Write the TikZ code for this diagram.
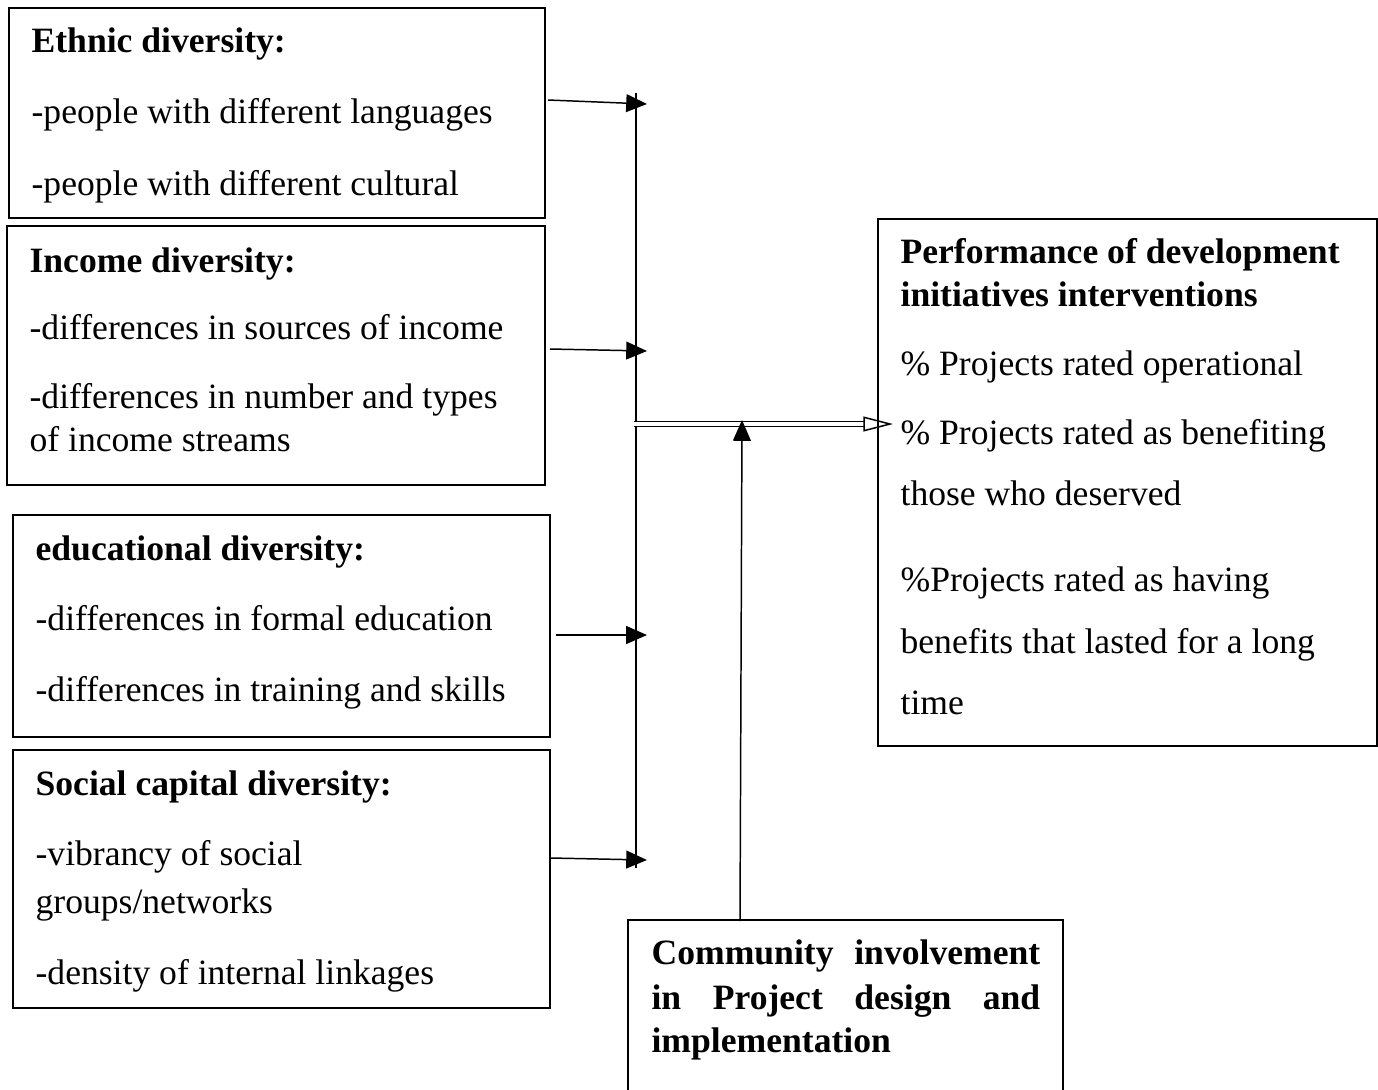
\documentclass[tikz,border=0pt]{standalone}
\usepackage{fontspec}
\setmainfont{Liberation Serif}
\usetikzlibrary{arrows.meta,positioning,fit}
\tikzset{
	varbox/.style={draw,line width=0.6pt,inner sep=0pt},
	txt/.style={anchor=base west,inner sep=0pt,font=\fontsize{12}{14}\selectfont},
	hd/.style={anchor=base west,inner sep=0pt,font=\fontsize{12}{14}\selectfont\bfseries},
	feed/.style={line width=0.5pt,-{Triangle[length=7pt,width=6pt]}},
}
\begin{document}
\begin{tikzpicture}[x=0.337pt,y=-0.337pt]
	\useasboundingbox (0,0) rectangle (1378,1089);
	% left boxes
	\node[varbox,fit={(9,8) (545,218)}] (ethnic) {};
	\node[hd]  (ethnic0) at (31,52)  {Ethnic diversity:};
	\node[txt] (ethnic1) at (31,123) {-people with different languages};
	\node[txt] (ethnic2) at (31,195) {-people with different cultural};
	\node[varbox,fit={(7,226) (545,485)}] (income) {};
	\node[hd]  (income0) at (29,272) {Income diversity:};
	\node[txt] (income1) at (29,339) {-differences in sources of income};
	\node[txt] (income2) at (29,408) {-differences in number and types};
	\node[txt] (income3) at (29,451) {of income streams};
	\node[varbox,fit={(13,515) (550,737)}] (educ) {};
	\node[hd]  (educ0) at (35,560) {educational diversity:};
	\node[txt] (educ1) at (35,630) {-differences in formal education};
	\node[txt] (educ2) at (35,701) {-differences in training and skills};
	\node[varbox,fit={(13,750) (550,1008)}] (social) {};
	\node[hd]  (social0) at (35,795) {Social capital diversity:};
	\node[txt] (social1) at (35,865) {-vibrancy of social};
	\node[txt] (social2) at (35,913) {groups/networks};
	\node[txt] (social3) at (35,984) {-density of internal linkages};
	% right box
	\node[varbox,fit={(878,219) (1377,746)}] (perf) {};
	\node[hd]  (perf0) at (900,263) {Performance of development};
	\node[hd]  (perf1) at (900,306) {initiatives interventions};
	\node[txt] (perf2) at (900,375) {\% Projects rated operational};
	\node[txt] (perf3) at (900,444) {\% Projects rated as benefiting};
	\node[txt] (perf4) at (900,505) {those who deserved};
	\node[txt] (perf5) at (900,591) {\%Projects rated as having};
	\node[txt] (perf6) at (900,653) {benefits that lasted for a long};
	\node[txt] (perf7) at (900,714) {time};
	% moderating box, open at the bottom
	\draw[line width=0.6pt] (628,1095) |- (1063,920) -- (1063,1095);
	\node[hd] (comm0) at (651,964)  {\makebox[131pt][s]{Community involvement}};
	\node[hd] (comm1) at (651,1009) {\makebox[131pt][s]{in Project design and}};
	\node[hd] (comm2) at (651,1052) {implementation};
	% connectors
	\coordinate (s1) at (548,100);  \coordinate (t1) at (647,104);
	\coordinate (s2) at (550,349);  \coordinate (t2) at (647,351);
	\coordinate (s3) at (556,635);  \coordinate (t3) at (647,635);
	\coordinate (s4) at (551,858);  \coordinate (t4) at (647,860);
	\coordinate (bustop) at (636,93); \coordinate (busbot) at (636,868);
	\coordinate (join) at (634,424); \coordinate (perfin) at (893,424);
	\coordinate (commtop) at (740,921); \coordinate (upend) at (742,420);
	\draw[line width=0.6pt] (bustop)--(busbot);
	\draw[feed] (s1)--(t1);
	\draw[feed] (s2)--(t2);
	\draw[feed] (s3)--(t3);
	\draw[feed] (s4)--(t4);
	\draw[double,line width=0.5pt,double distance=1.3pt,-{Triangle[open,length=10pt,width=5pt]}] (join)--(perfin);
	\draw[feed] (commtop)--(upend);
\end{tikzpicture}
\end{document}
